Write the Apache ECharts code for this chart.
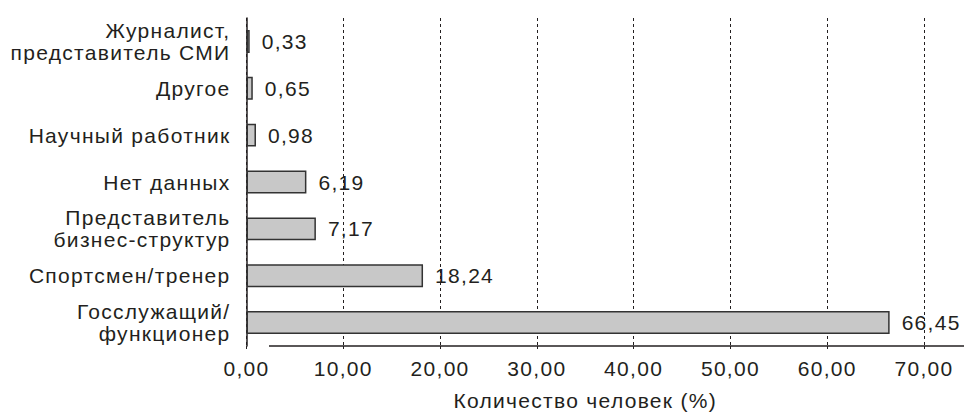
<!DOCTYPE html>
<html>
<head>
<meta charset="utf-8">
<script src="https://cdn.jsdelivr.net/npm/echarts@6/dist/echarts.min.js"></script>
<style>
  html, body { margin: 0; padding: 0; background: #fff; }
  #chart { width: 964px; height: 412px; }
  /* the typeface here is set a little loose */
  #chart text { letter-spacing: 1.3px; }
</style>
</head>
<body>
<div id="chart"></div>
<script>
// Respondent groups, listed top to bottom
const categories = [
  'Журналист,\nпредставитель СМИ',
  'Другое',
  'Научный работник',
  'Нет данных',
  'Представитель\nбизнес-структур',
  'Спортсмен/тренер',
  'Госслужащий/\nфункционер'
];
const shares = [0.33, 0.65, 0.98, 6.19, 7.17, 18.24, 66.45];
const axisTicks = [0, 10, 20, 30, 40, 50, 60, 70];
const axisTitle = 'Количество человек (%)';

const FONT = '"Liberation Sans", Arial, sans-serif';
const INK = '#231f20';
const SIZE = 21;
const comma = v => String(v).replace('.', ',');

const chart = echarts.init(document.getElementById('chart'), null, { renderer: 'svg' });

chart.setOption({
  animation: false,
  backgroundColor: '#fff',
  textStyle: { fontFamily: FONT, color: INK },
  grid: { left: 246.5, right: 40, top: 18, height: 328, outerBoundsMode: 'none', containLabel: false },
  xAxis: {
    type: 'value',
    min: axisTicks[0],
    max: axisTicks[axisTicks.length - 1],
    interval: axisTicks[1] - axisTicks[0],
    name: axisTitle,
    nameLocation: 'middle',
    nameGap: 44,
    nameTextStyle: { fontFamily: FONT, fontSize: SIZE, color: INK },
    axisLine: { show: false },
    axisTick: { show: true, length: 5, lineStyle: { color: INK, width: 1, type: [3, 3] } },
    axisLabel: {
      margin: 12,
      fontFamily: FONT, fontSize: SIZE, color: INK,
      formatter: v => v.toFixed(2).replace('.', ',')
    },
    splitLine: { show: true, lineStyle: { color: INK, width: 1, type: [3, 3] } }
  },
  yAxis: {
    type: 'category',
    inverse: true,
    data: categories,
    axisLine: { show: true, lineStyle: { color: INK, width: 1.5 } },
    axisTick: { show: false },
    axisLabel: {
      margin: 16,
      fontFamily: FONT, fontSize: SIZE, color: INK,
      lineHeight: 22, align: 'right'
    }
  },
  series: [{
    type: 'bar',
    data: shares,
    barWidth: '49%',
    itemStyle: { color: '#c8c8c8', borderColor: '#333', borderWidth: 1.5 },
    label: {
      show: true,
      position: 'right',
      distance: 12,
      fontFamily: FONT, fontSize: SIZE, color: INK,
      formatter: p => comma(p.value)
    }
  }]
});

// Baseline rule under the bars, running past the last tick to the edge
const rect = chart.getModel().getComponent('grid').coordinateSystem.getRect();
const yBase = rect.y + rect.height;
chart.setOption({
  graphic: [{
    type: 'line',
    shape: { x1: 269, y1: yBase, x2: 964, y2: yBase },
    style: { stroke: INK, lineWidth: 1.5 },
    z: 10
  }]
});
</script>
</body>
</html>
